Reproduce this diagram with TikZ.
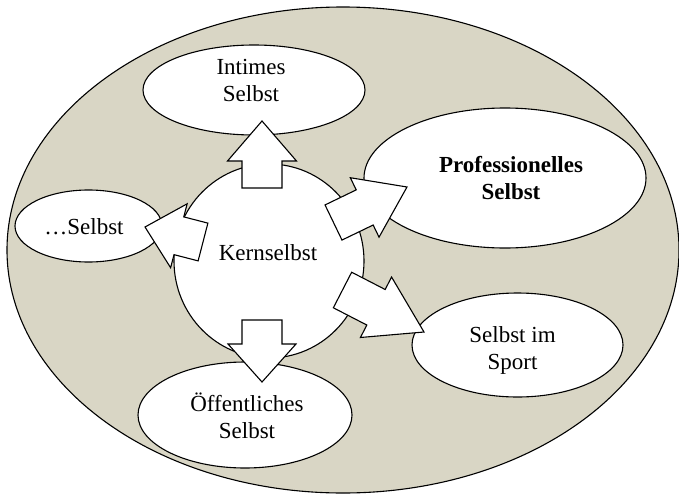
\documentclass[tikz,border=0pt]{standalone}
\usepackage{fontspec}
\setmainfont{Liberation Serif}
\usetikzlibrary{shapes.geometric,calc}
\definecolor{bgfill}{RGB}{217,214,197}
\tikzset{
  outerbox/.style={ellipse, draw, fill=bgfill, line width=1.1pt, inner sep=0pt},
  selfbox/.style={ellipse, draw, fill=white, line width=1.1pt, inner sep=0pt},
  lbl/.style={align=center, font=\fontsize{23}{27}\selectfont, inner sep=0pt},
  blk/.style={draw, fill=white, line width=1.1pt, line join=miter},
}
% #1 name, #2 tail, #3 tip, #4 shaft half width, #5 head half width, #6 head length
\newcommand\blockarrow[6]{%
  \coordinate (#1-h) at ($(#3)!#6!(#2)$);
  \draw[blk] ($(#2)!#4!90:(#3)$) -- ($(#1-h)!#4!90:(#3)$) -- ($(#1-h)!#5!90:(#3)$)
    -- (#3) -- ($(#1-h)!#5!-90:(#3)$) -- ($(#1-h)!#4!-90:(#3)$) -- ($(#2)!#4!-90:(#3)$) -- cycle;
}
\begin{document}
\begin{tikzpicture}[x=1pt,y=-1pt]
\useasboundingbox (0,0) rectangle (679,495);
% background world
\node[outerbox, minimum width=672pt, minimum height=486pt] (world) at (343,250) {};
% core
\node[selfbox, minimum width=190pt, minimum height=194pt] (kern) at (269,261) {};
% satellites
\node[selfbox, minimum width=222pt, minimum height=90pt]  (intE)   at (254,90) {};
\node[selfbox, minimum width=282pt, minimum height=140pt] (profE)  at (505,178) {};
\node[selfbox, minimum width=147pt, minimum height=72pt]  (etcE)   at (88.5,226) {};
\node[selfbox, minimum width=211pt, minimum height=104pt] (sportE) at (517.5,345) {};
\node[selfbox, minimum width=214pt, minimum height=106pt] (oeffE)  at (245,415) {};
% arrow end points
\coordinate (aUp-t) at (262,188);   \coordinate (aUp-p) at (262,121);
\coordinate (aDn-t) at (262,320);   \coordinate (aDn-p) at (262,382);
\coordinate (aLf-t) at (203,242);   \coordinate (aLf-p) at (145,227);
\coordinate (aUR-t) at (333.5,222.5); \coordinate (aUR-p) at (407,187);
\coordinate (aDR-t) at (342.5,290); \coordinate (aDR-p) at (424,332);
\blockarrow{aUp}{aUp-t}{aUp-p}{20pt}{34.5pt}{40pt}
\blockarrow{aDn}{aDn-t}{aDn-p}{20pt}{34pt}{38pt}
\blockarrow{aLf}{aLf-t}{aLf-p}{19.5pt}{33pt}{35pt}
\blockarrow{aUR}{aUR-t}{aUR-p}{19.5pt}{33pt}{47pt}
\blockarrow{aDR}{aDR-t}{aDR-p}{20pt}{34pt}{54pt}
% labels
\node[lbl] (tInt)   at (251,80.7)  {Intimes\\Selbst};
\node[lbl, font=\fontsize{23}{27}\selectfont\bfseries] (tProf) at (511,177.7) {Professionelles\\Selbst};
\node[lbl] (tSport) at (512.5,350) {Selbst im\\Sport};
\node[lbl] (tOeff)  at (247,415.6) {Öffentliches\\Selbst};
\node[lbl, anchor=base] (tEtc)  at (84,234)  {…Selbst};
\node[lbl, anchor=base] (tKern) at (268,260) {Kernselbst};
\end{tikzpicture}
\end{document}
